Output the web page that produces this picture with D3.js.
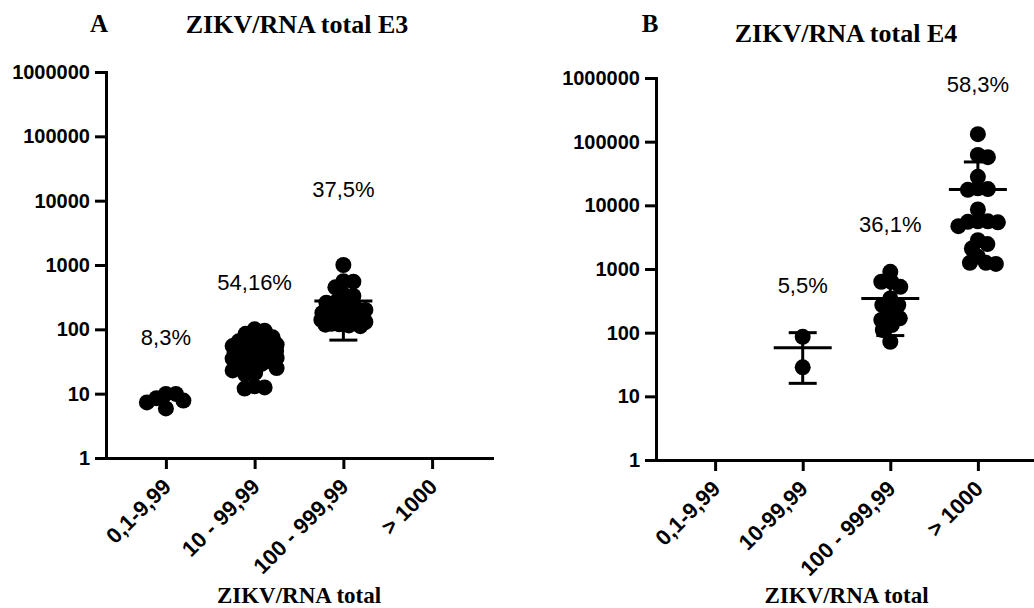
<!DOCTYPE html>
<html><head><meta charset="utf-8">
<script src="https://cdn.jsdelivr.net/npm/d3@7"></script>
<style>html,body{margin:0;padding:0;background:#fff;} svg{display:block;}</style>
</head><body>
<svg id="chart" width="1034" height="608"></svg>
<script>
// ---------- data ----------
const tickValues = [1, 10, 100, 1000, 10000, 100000, 1000000];
const categoriesE3 = ["0,1-9,99", "10 - 99,99", "100 - 999,99", "> 1000"];
const categoriesE4 = ["0,1-9,99", "10-99,99", "100 - 999,99", "> 1000"];

const e3Group1 = [9.9, 9.9, 8.5, 7.8, 7.3, 5.9];
const e3Group2 = [100, 95, 85, 75, 68, 65, 62, 60, 58, 55, 52, 50, 48, 47, 46, 45, 44, 43, 42, 41, 40,
                  38, 37, 36, 35, 34, 33, 32, 31, 30, 29, 28, 25, 23, 21, 20, 13, 12.5, 12];
const e3Group3 = [1000, 560, 550, 450, 350, 330, 270, 260, 230, 215, 200, 195, 180, 170, 160, 155,
                  150, 145, 140, 135, 130, 125, 122, 120, 118, 115, 112];
const e3Group4 = [];

const e4Group1 = [];
const e4Group2 = [86, 28.5];
const e4Group3 = [903, 630, 630, 525, 345, 272, 272, 189, 168, 158, 132, 110, 72];
const e4Group4 = [131000, 62000, 57000, 28000, 18500, 18000, 17500, 8600, 5600, 5600, 5500, 5400, 4700,
                  2830, 2460, 2100, 1560, 1250, 1250, 1200];

// mean and SD as drawn (null where no bar is visible)
const meanE3 = [null, null, 276, null];
const sdE3 = [null, null, 208, null];
const meanE4 = [null, 58, 345, 17800];
const sdE4 = [null, 42, 255, 30200];

const percentE3 = ["8,3%", "54,16%", "37,5%", ""];
const percentAtE3 = [57, 410, 11500, null];
const percentE4 = ["", "5,5%", "36,1%", "58,3%"];
const percentAtE4 = [null, 423, 3840, 604000];

// ---------- layout ----------
const panels = [
  { letter: "A", title: "ZIKV/RNA total E3", cats: categoriesE3,
    groups: [e3Group1, e3Group2, e3Group3, e3Group4], mean: meanE3, sd: sdE3,
    pct: percentE3, pctAt: percentAtE3,
    x0: 106, x1: 492, yBottom: 458, yTop: 72,
    letterX: 99, letterY: 32, titleX: 297, titleY: 33 },
  { letter: "B", title: "ZIKV/RNA total E4", cats: categoriesE4,
    groups: [e4Group1, e4Group2, e4Group3, e4Group4], mean: meanE4, sd: sdE4,
    pct: percentE4, pctAt: percentAtE4,
    x0: 656, x1: 1037, yBottom: 460, yTop: 78,
    letterX: 650, letterY: 32, titleX: 846, titleY: 42 }
];

const svg = d3.select("#chart");
const SANS = "'Liberation Sans', Arial, sans-serif";
const SERIF = "'Liberation Serif', 'Times New Roman', serif";

// greedy scatter spreading (column scatter), limited half-width
function swarm(values, y, D, L) {
  const pts = values.map(v => ({ v, y: y(v) })).sort((a, b) => a.y - b.y);
  const placed = [];
  pts.forEach(p => {
    let best = 0, bestScore = -1, done = false;
    for (let mag = 0; mag <= L && !done; mag += 0.5) {
      const cands = mag === 0 ? [0] : [mag, -mag];
      for (const dx of cands) {
        let minD = Infinity;
        for (const q of placed) { const d = Math.hypot(q.dx - dx, q.y - p.y); if (d < minD) minD = d; }
        if (minD >= D) { best = dx; done = true; break; }
        if (minD > bestScore) { bestScore = minD; best = dx; }
      }
    }
    p.dx = best; placed.push(p);
  });
  return pts;
}

panels.forEach(P => {
  const g = svg.append("g");
  const x = d3.scalePoint().domain(P.cats).range([P.x0, P.x1]).padding(0.675);
  const y = d3.scaleLog().domain([1, 1000000]).range([P.yBottom, P.yTop]);

  // titles
  g.append("text").attr("x", P.letterX).attr("y", P.letterY).attr("text-anchor", "middle")
    .style("font-family", SERIF).style("font-weight", "bold").style("font-size", "25px").text(P.letter);
  g.append("text").attr("x", P.titleX).attr("y", P.titleY).attr("text-anchor", "middle")
    .style("font-family", SERIF).style("font-weight", "bold").style("font-size", "26px").text(P.title);

  // y axis
  const ya = g.append("g").attr("transform", `translate(${P.x0},0)`)
    .call(d3.axisLeft(y).tickValues(tickValues).tickFormat(d3.format("d")).tickSize(11).tickSizeOuter(0).tickPadding(5));
  // x axis
  const xa = g.append("g").attr("transform", `translate(0,${P.yBottom})`)
    .call(d3.axisBottom(x).tickSize(11).tickSizeOuter(0));
  [ya, xa].forEach(a => {
    a.select(".domain").attr("stroke-width", 3).attr("stroke-linecap", "square");
    a.selectAll(".tick line").attr("stroke-width", 3);
    a.selectAll("text").style("font-family", SANS).style("font-weight", "bold").style("font-size", "20px").attr("fill", "#000");
  });
  xa.selectAll(".tick text").style("font-size", "22px").attr("y", null).attr("dy", null).attr("x", null)
    .attr("text-anchor", "end").attr("transform", "translate(6,30) rotate(-45)");

  // axis title
  g.append("text").attr("x", (P.x0 + P.x1) / 2).attr("y", 603).attr("text-anchor", "middle")
    .style("font-family", SERIF).style("font-weight", "bold").style("font-size", "23px").text("ZIKV/RNA total");

  // dots
  P.groups.forEach((vals, i) => {
    const cx = x(P.cats[i]);
    const pts = swarm(vals, y, 10, 22);
    g.selectAll(null).data(pts).enter().append("circle")
      .attr("cx", d => cx + d.dx).attr("cy", d => d.y).attr("r", 8).attr("fill", "#000");
  });

  // error bars (mean ± SD)
  P.cats.forEach((c, i) => {
    const m = P.mean[i], s = P.sd[i];
    if (m == null) return;
    const cx = x(c);
    const yHi = y(m + s);
    const lo = m - s;
    const yLo = lo > 1 ? y(lo) : y(m);
    const eb = g.append("g").attr("stroke", "#000").attr("stroke-width", 3);
    eb.append("line").attr("x1", cx - 29).attr("x2", cx + 29).attr("y1", y(m)).attr("y2", y(m));
    eb.append("line").attr("x1", cx).attr("x2", cx).attr("y1", yHi).attr("y2", yLo);
    eb.append("line").attr("x1", cx - 14).attr("x2", cx + 14).attr("y1", yHi).attr("y2", yHi);
    if (lo > 1) eb.append("line").attr("x1", cx - 14).attr("x2", cx + 14).attr("y1", yLo).attr("y2", yLo);
  });

  // percentage labels
  P.cats.forEach((c, i) => {
    if (!P.pct[i]) return;
    g.append("text").attr("x", x(c)).attr("y", y(P.pctAt[i])).attr("text-anchor", "middle")
      .style("font-family", SANS).style("font-size", "22px").attr("fill", "#000").text(P.pct[i]);
  });
});
</script>
</body></html>
